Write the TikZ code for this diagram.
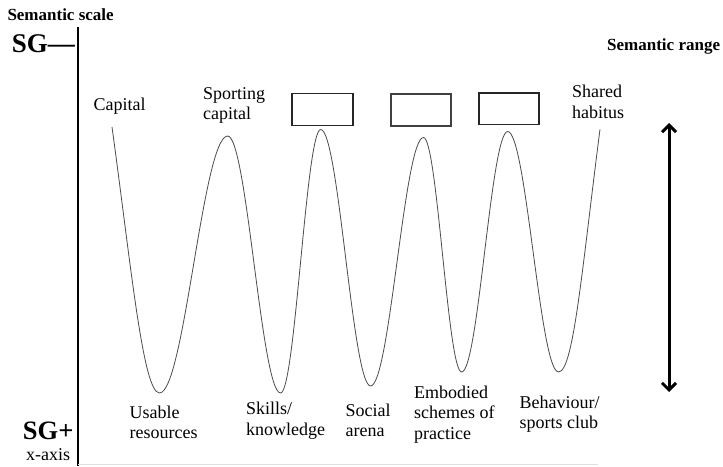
\documentclass[tikz,border=0pt]{standalone}
\usepackage{fontspec}
\setmainfont{Liberation Serif}
\usetikzlibrary{arrows.meta}
\newcommand{\twoline}[2]{\begin{tabular}[t]{@{}l@{}}#1\\#2\end{tabular}}
\newcommand{\threeline}[3]{\begin{tabular}[t]{@{}l@{}}#1\\#2\\#3\end{tabular}}
\begin{document}
\begin{tikzpicture}[x=1pt,y=-1pt,
  lab/.style={anchor=base west,inner sep=0pt,font=\fontsize{18}{20.5}\selectfont},
  headlab/.style={anchor=base west,inner sep=0pt,font=\fontsize{17}{20}\selectfont\bfseries},
  sglab/.style={anchor=base west,inner sep=0pt,font=\fontsize{27}{30}\selectfont\bfseries},
  emptybox/.style={draw=black!85,line width=1.4pt,inner sep=0pt,minimum width=61pt,minimum height=32pt},
  wave/.style={draw=black!70,line width=0.8pt},
  rangearrow/.style={line width=3pt,{Straight Barb[length=7pt,width=14pt]}-{Straight Barb[length=7pt,width=14pt]}}]
\useasboundingbox[fill=white] (0,0) rectangle (723,466);

% axis texts
\node[headlab] (scale) at (7.3,20.5) {Semantic scale};
\node[headlab] (range) at (607,50) {Semantic range};
\node[sglab] (sgminus) at (11.7,52.7) {SG—};
\node[sglab,font=\fontsize{26.5}{30}\selectfont\bfseries] (sgplus) at (22.7,439.3) {SG+};
\node[lab] (xaxis) at (26,460) {x-axis};

% axis lines
\coordinate (axtop) at (78,27);
\coordinate (axbot) at (78,466);
\draw[line width=1.3pt] (axtop) -- (axbot);
\coordinate (xl) at (78,464.5);
\coordinate (xr) at (598,464.5);
\draw[black!12,line width=1pt] (xl) -- (xr);

% top labels
\node[lab] (capital) at (93.5,110) {Capital};
\node[lab] (sporting) at (203,99) {\twoline{Sporting}{capital}};
\node[lab] (shared) at (572,97.7) {\twoline{Shared}{habitus}};

% empty boxes
\node[emptybox] (box1) at (322.5,109.2) {};
\node[emptybox,draw=black!75,minimum width=60pt] (box2) at (421,109.8) {};
\node[emptybox,minimum width=60pt,minimum height=31.5pt] (box3) at (509,108.8) {};

% bottom labels
\node[lab] (usable) at (129.4,418) {\twoline{Usable}{resources}};
\node[lab] (skills) at (246,414.5) {\twoline{Skills/}{knowledge}};
\node[lab] (social) at (345.5,416) {\twoline{Social}{arena}};
\node[lab] (embodied) at (414,398) {\threeline{Embodied}{schemes of}{practice}};
\node[lab] (behaviour) at (519.5,408) {\twoline{Behaviour/}{sports club}};

% wave
\draw[wave] (112,127)
  .. controls (131,265) and (143,393) .. (159.5,393)
  .. controls (184.3,393) and (202.9,136) .. (227.7,136)
  .. controls (246.9,136) and (261.4,393) .. (280.6,393)
  .. controls (295.2,393) and (306.1,129.5) .. (320.7,129.5)
  .. controls (338.8,129.5) and (352.5,386) .. (370.6,386)
  .. controls (389.8,386) and (404.3,137.5) .. (423.5,137.5)
  .. controls (437.3,137.5) and (447.8,372) .. (461.6,372)
  .. controls (478.4,372) and (490.9,131.5) .. (507.7,131.5)
  .. controls (526.2,131.5) and (540,372) .. (558.5,372)
  .. controls (573.5,372) and (582,269) .. (600,129.3);

% semantic range arrow
\coordinate (rtop) at (669,123);
\coordinate (rbot) at (669,392);
\draw[rangearrow] (rtop) -- (rbot);
\end{tikzpicture}
\end{document}
